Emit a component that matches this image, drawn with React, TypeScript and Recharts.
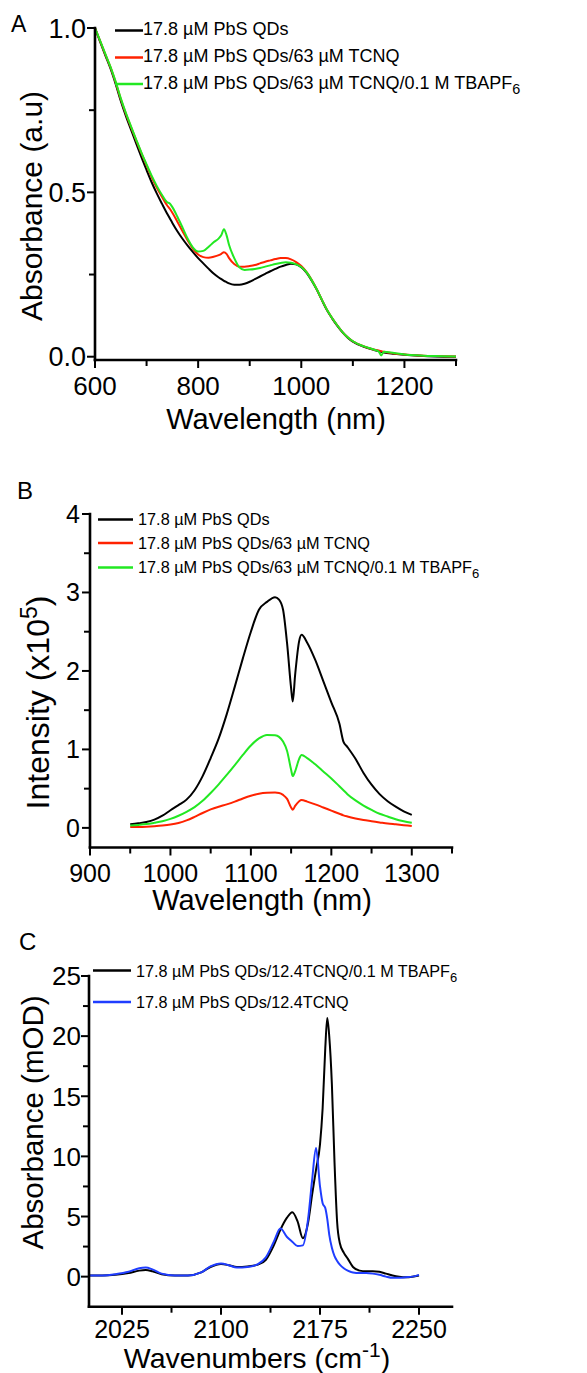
import React from 'react';
import { LineChart, Line, XAxis, YAxis, Legend } from 'recharts';

const FONT = "'Liberation Sans', Arial, Helvetica, sans-serif";
const BLACK = '#000000';
const RED = '#ff2200';
const GREEN = '#22e822';
const BLUE = '#1f3dff';

// ---------------- Panel A : absorption ----------------
const wavelengthA = [
  600, 610, 620, 630, 640, 650, 660, 670, 680, 690,
  700, 710, 720, 730, 740, 745, 750, 760, 770, 780,
  790, 800, 810, 820, 830, 840, 845, 850, 855, 860,
  870, 880, 890, 900, 910, 920, 930, 940, 950, 960,
  970, 980, 990, 1000, 1010, 1020, 1030, 1040, 1050, 1060,
  1070, 1080, 1090, 1100, 1120, 1140, 1150, 1155, 1160, 1180,
  1200, 1230, 1260, 1300,
];
const absQD = [
  1.0, 0.958, 0.917, 0.877, 0.83, 0.778, 0.732, 0.69, 0.648, 0.607,
  0.568, 0.53, 0.496, 0.465, 0.435, 0.421, 0.407, 0.381, 0.358, 0.337,
  0.318, 0.3, 0.284, 0.268, 0.253, 0.241, 0.236, 0.231, 0.227, 0.223,
  0.219, 0.219, 0.222, 0.228, 0.236, 0.244, 0.252, 0.26, 0.267, 0.274,
  0.279, 0.283, 0.281, 0.272, 0.256, 0.232, 0.204, 0.172, 0.141, 0.116,
  0.094, 0.074, 0.058, 0.046, 0.031, 0.021, 0.017, 0.015, 0.013, 0.009,
  0.006, 0.003, 0.001, 0.0,
];
const absTCNQ = [
  1.0, 0.96, 0.92, 0.881, 0.835, 0.784, 0.739, 0.698, 0.658, 0.619,
  0.582, 0.546, 0.514, 0.486, 0.46, 0.45, 0.438, 0.41, 0.381, 0.353,
  0.328, 0.311, 0.303, 0.301, 0.304, 0.309, 0.313, 0.318, 0.313, 0.3,
  0.282, 0.274, 0.274, 0.276, 0.279, 0.284, 0.289, 0.293, 0.297, 0.3,
  0.3, 0.296, 0.288, 0.276, 0.258, 0.234, 0.205, 0.173, 0.142, 0.117,
  0.095, 0.075, 0.059, 0.047, 0.032, 0.022, 0.019, 0.017, 0.015, 0.01,
  0.007, 0.004, 0.002, 0.001,
];
const absTBAPF6 = [
  1.0, 0.961, 0.921, 0.882, 0.837, 0.786, 0.741, 0.7, 0.66, 0.621,
  0.585, 0.55, 0.519, 0.492, 0.47, 0.466, 0.455, 0.425, 0.392, 0.358,
  0.332, 0.32, 0.322, 0.334, 0.348, 0.36, 0.37, 0.388, 0.37, 0.34,
  0.3, 0.272, 0.264, 0.265, 0.267, 0.27, 0.274, 0.278, 0.282, 0.285,
  0.287, 0.286, 0.281, 0.273, 0.257, 0.233, 0.205, 0.173, 0.142, 0.117,
  0.095, 0.075, 0.059, 0.047, 0.032, 0.022, 0.016, 0.004, 0.015, 0.011,
  0.007, 0.004, 0.002, 0.001,
];
const xTicksA = [600, 700, 800, 900, 1000, 1100, 1200, 1300];
const xMajorA = [600, 800, 1000, 1200];
const yTicksA = [0, 0.25, 0.5, 0.75, 1];
const yMajorA = [0, 0.5, 1];

// ---------------- Panel B : emission ----------------
const wavelengthB = [
  950, 960, 970, 980, 990, 1000, 1010, 1020, 1030, 1040,
  1050, 1060, 1070, 1080, 1090, 1100, 1110, 1120, 1130, 1135,
  1140, 1145, 1150, 1152, 1155, 1160, 1163, 1170, 1180, 1190,
  1200, 1210, 1215, 1220, 1230, 1240, 1250, 1260, 1270, 1280,
  1290, 1300,
];
const plQD = [
  0.045, 0.058, 0.075, 0.105, 0.155, 0.225, 0.29, 0.36, 0.48, 0.66,
  0.89, 1.14, 1.45, 1.8, 2.16, 2.5, 2.78, 2.88, 2.94, 2.91,
  2.78, 2.35, 1.78, 1.61, 1.95, 2.38, 2.46, 2.36, 2.14, 1.87,
  1.6, 1.33, 1.1, 1.03, 0.88, 0.7, 0.55, 0.43, 0.34, 0.27,
  0.21, 0.165,
];
const plTCNQ = [
  0.01, 0.012, 0.016, 0.022, 0.03, 0.042, 0.062, 0.095, 0.14, 0.19,
  0.235, 0.27, 0.3, 0.335, 0.375, 0.41, 0.435, 0.447, 0.45, 0.445,
  0.42, 0.37, 0.26, 0.23, 0.28, 0.34, 0.355, 0.335, 0.3, 0.26,
  0.22, 0.18, 0.16, 0.145, 0.12, 0.1, 0.085, 0.07, 0.055, 0.045,
  0.035, 0.025,
];
const plTBAPF6 = [
  0.03, 0.038, 0.048, 0.065, 0.085, 0.115, 0.155, 0.205, 0.265, 0.345,
  0.445, 0.555, 0.675, 0.8, 0.93, 1.05, 1.14, 1.185, 1.18, 1.16,
  1.1, 0.98, 0.74, 0.66, 0.72, 0.88, 0.93, 0.89, 0.81, 0.72,
  0.63, 0.53, 0.48, 0.43, 0.35, 0.285, 0.23, 0.18, 0.145, 0.11,
  0.085, 0.065,
];
const xTicksB = [900, 950, 1000, 1050, 1100, 1150, 1200, 1250, 1300, 1350];
const xMajorB = [900, 1000, 1100, 1200, 1300];
const yTicksB = [0, 0.5, 1, 1.5, 2, 2.5, 3, 3.5, 4];
const yMajorB = [0, 1, 2, 3, 4];

// ---------------- Panel C : IR ----------------
const wavenumberC = [
  2000, 2010, 2020, 2030, 2038, 2043, 2048, 2055, 2065, 2075,
  2085, 2092, 2100, 2106, 2112, 2120, 2128, 2134, 2140, 2145,
  2150, 2154, 2158, 2162, 2166, 2169, 2172, 2175, 2177, 2179,
  2180.5, 2182, 2184, 2186, 2188, 2190, 2193, 2196, 2200, 2205,
  2210, 2215, 2220, 2225, 2230, 2235, 2240, 2245, 2250,
];
const irTBAPF6 = [
  0.1, 0.1, 0.15, 0.3, 0.5, 0.55, 0.45, 0.2, 0.1, 0.1,
  0.35, 0.8, 1.05, 0.95, 0.8, 0.85, 1.0, 1.4, 2.6, 3.9,
  4.9, 5.35, 4.6, 3.2, 4.5, 6.8, 8.9, 11.0, 14.0, 19.0,
  21.5, 20.0, 16.0, 9.5, 4.5, 2.8, 2.0, 1.5, 0.8, 0.5,
  0.45, 0.45, 0.4, 0.25, 0.1, 0.0, -0.05, 0.0, 0.1,
];
const irTCNQ = [
  0.1, 0.1, 0.2, 0.4, 0.7, 0.75, 0.6, 0.25, 0.1, 0.1,
  0.35, 0.85, 1.1, 0.95, 0.75, 0.8, 1.05, 1.6, 2.9, 4.0,
  3.3, 2.9, 2.55, 2.6, 4.8, 8.0, 10.7, 7.5, 6.1, 5.7,
  4.8, 3.5, 2.4, 1.7, 1.3, 1.0, 0.7, 0.5, 0.35, 0.3,
  0.3, 0.25, 0.15, 0.0, -0.1, -0.1, -0.05, 0.0, 0.15,
];
const xTicksC = [2025, 2062.5, 2100, 2137.5, 2175, 2212.5, 2250];
const xMajorC = [2025, 2100, 2175, 2250];
const yTicksC = [0, 2.5, 5, 7.5, 10, 12.5, 15, 17.5, 20, 22.5, 25];
const yMajorC = [0, 5, 10, 15, 20, 25];

const dataA = wavelengthA.map((x, i) => ({ x, qd: absQD[i], tcnq: absTCNQ[i], tba: absTBAPF6[i] }));
const dataB = wavelengthB.map((x, i) => ({ x, qd: plQD[i], tcnq: plTCNQ[i], tba: plTBAPF6[i] }));
const dataC = wavenumberC.map((x, i) => ({ x, tba: irTBAPF6[i], tcnq: irTCNQ[i] }));

type TickOpts = { major: number[]; fmt: (v: number) => string; fontSize: number; offset: number };

const makeXTick = ({ major, fmt, fontSize, offset }: TickOpts) => (props: any) => {
  const { x, y, payload } = props;
  const v = payload.value;
  const isMajor = major.indexOf(v) >= 0;
  return (
    <g>
      <line x1={x} x2={x} y1={y} y2={y + (isMajor ? 8 : 6)} stroke="#000" strokeWidth={2} />
      {isMajor ? (
        <text x={x} y={y + offset} textAnchor="middle" fontSize={fontSize} fontFamily={FONT} fill="#000">
          {fmt(v)}
        </text>
      ) : null}
    </g>
  );
};

const makeYTick = ({ major, fmt, fontSize, offset }: TickOpts) => (props: any) => {
  const { x, y, payload } = props;
  const v = payload.value;
  const isMajor = major.indexOf(v) >= 0;
  return (
    <g>
      <line x1={x} x2={x - (isMajor ? 8 : 6)} y1={y} y2={y} stroke="#000" strokeWidth={2} />
      {isMajor ? (
        <text x={x - offset} y={y} dy="0.36em" textAnchor="end" fontSize={fontSize} fontFamily={FONT} fill="#000">
          {fmt(v)}
        </text>
      ) : null}
    </g>
  );
};

const axisLineStyle = { stroke: '#000', strokeWidth: 2.6, strokeLinecap: 'square' as const };
const legendWrap = { position: 'absolute' as const, left: 0, top: 0, width: 0, height: 0, overflow: 'visible' as const };

const Sub6 = ({ dy }: { dy: number }) => (
  <tspan dy={dy} fontSize="0.8em">6</tspan>
);

const LegendA = () => (
  <svg width={587} height={110} style={{ position: 'absolute', left: 0, top: 0, overflow: 'visible' }}>
    <text x={11} y={32} fontSize={23} fontFamily={FONT} fill="#000">A</text>
    <line x1={115} x2={143} y1={30.5} y2={30.5} stroke={BLACK} strokeWidth={2.5} />
    <text x={143} y={35} fontSize={18} fontFamily={FONT} fill="#000">17.8 µM PbS QDs</text>
    <line x1={115} x2={143} y1={57.5} y2={57.5} stroke={RED} strokeWidth={2.5} />
    <text x={143} y={62} fontSize={18} fontFamily={FONT} fill="#000">17.8 µM PbS QDs/63 µM TCNQ</text>
    <line x1={115} x2={143} y1={84} y2={84} stroke={GREEN} strokeWidth={2.5} />
    <text x={143} y={89} fontSize={18} fontFamily={FONT} fill="#000">
      17.8 µM PbS QDs/63 µM TCNQ/0.1 M TBAPF<Sub6 dy={5} />
    </text>
  </svg>
);

const LegendB = () => (
  <svg width={587} height={130} style={{ position: 'absolute', left: 0, top: 0, overflow: 'visible' }}>
    <text x={17} y={39} fontSize={24} fontFamily={FONT} fill="#000">B</text>
    <line x1={98} x2={133} y1={59.5} y2={59.5} stroke={BLACK} strokeWidth={2.5} />
    <text x={138} y={65} fontSize={16.3} fontFamily={FONT} fill="#000">17.8 µM PbS QDs</text>
    <line x1={98} x2={133} y1={83} y2={83} stroke={RED} strokeWidth={2.5} />
    <text x={138} y={89} fontSize={16.3} fontFamily={FONT} fill="#000">17.8 µM PbS QDs/63 µM TCNQ</text>
    <line x1={98} x2={133} y1={107.5} y2={107.5} stroke={GREEN} strokeWidth={2.5} />
    <text x={138} y={113} fontSize={16.3} fontFamily={FONT} fill="#000">
      17.8 µM PbS QDs/63 µM TCNQ/0.1 M TBAPF<Sub6 dy={5} />
    </text>
  </svg>
);

const LegendC = () => (
  <svg width={587} height={100} style={{ position: 'absolute', left: 0, top: 0, overflow: 'visible' }}>
    <text x={19} y={30} fontSize={24} fontFamily={FONT} fill="#000">C</text>
    <line x1={93} x2={131} y1={50.5} y2={50.5} stroke={BLACK} strokeWidth={2.5} />
    <text x={136} y={57} fontSize={16.2} fontFamily={FONT} fill="#000">
      17.8 µM PbS QDs/12.4TCNQ/0.1 M TBAPF<Sub6 dy={5} />
    </text>
    <line x1={93} x2={131} y1={82} y2={82} stroke={BLUE} strokeWidth={2.5} />
    <text x={136} y={88} fontSize={16.2} fontFamily={FONT} fill="#000">17.8 µM PbS QDs/12.4TCNQ</text>
  </svg>
);

const lineCommon = { type: 'monotone' as const, dot: false, activeDot: false, isAnimationActive: false, strokeWidth: 2 };

export default function App() {
  return (
    <div style={{ position: 'absolute', left: 0, top: 0, width: 587, height: 1373, background: '#fff', fontFamily: FONT }}>
      {/* Panel A */}
      <div style={{ position: 'absolute', left: 0, top: 0 }}>
        <LineChart width={587} height={460} data={dataA} margin={{ top: 28, right: 131, bottom: 0, left: 0 }}>
          <XAxis
            type="number"
            dataKey="x"
            domain={[600, 1300]}
            ticks={xTicksA}
            interval={0}
            tickSize={0}
            tickMargin={0}
            tickLine={false}
            axisLine={axisLineStyle}
            height={100}
            tick={makeXTick({ major: xMajorA, fmt: (v) => String(v), fontSize: 26, offset: 35 })}
            label={{
              content: () => (
                <text x={276} y={429} textAnchor="middle" fontSize={29} fontFamily={FONT} fill="#000">
                  Wavelength (nm)
                </text>
              ),
            }}
          />
          <YAxis
            type="number"
            domain={[-0.01, 1]}
            ticks={yTicksA}
            interval={0}
            tickSize={0}
            tickMargin={0}
            tickLine={false}
            axisLine={axisLineStyle}
            width={95}
            tick={makeYTick({ major: yMajorA, fmt: (v) => v.toFixed(1), fontSize: 27, offset: 9 })}
            label={{
              content: () => (
                <text transform="translate(42,206) rotate(-90)" textAnchor="middle" fontSize={30} fontFamily={FONT} fill="#000">
                  Absorbance (a.u)
                </text>
              ),
            }}
          />
          <Legend content={() => <LegendA />} wrapperStyle={legendWrap} layout="horizontal" verticalAlign="middle" align="center" />
          <Line {...lineCommon} dataKey="qd" stroke={BLACK} />
          <Line {...lineCommon} dataKey="tcnq" stroke={RED} />
          <Line {...lineCommon} dataKey="tba" stroke={GREEN} />
        </LineChart>
      </div>

      {/* Panel B */}
      <div style={{ position: 'absolute', left: 0, top: 460 }}>
        <LineChart width={587} height={460} data={dataB} margin={{ top: 54, right: 135, bottom: 0, left: 0 }}>
          <XAxis
            type="number"
            dataKey="x"
            domain={[900, 1350]}
            ticks={xTicksB}
            interval={0}
            tickSize={0}
            tickMargin={0}
            tickLine={false}
            axisLine={axisLineStyle}
            height={72.5}
            tick={makeXTick({ major: xMajorB, fmt: (v) => String(v), fontSize: 25, offset: 34 })}
            label={{
              content: () => (
                <text x={262} y={450} textAnchor="middle" fontSize={29} fontFamily={FONT} fill="#000">
                  Wavelength (nm)
                </text>
              ),
            }}
          />
          <YAxis
            type="number"
            domain={[-0.25, 4]}
            ticks={yTicksB}
            interval={0}
            tickSize={0}
            tickMargin={0}
            tickLine={false}
            axisLine={axisLineStyle}
            width={90}
            tick={makeYTick({ major: yMajorB, fmt: (v) => String(v), fontSize: 25, offset: 10 })}
            label={{
              content: () => (
                <text transform="translate(49,242.5) rotate(-90)" textAnchor="middle" fontSize={32} fontFamily={FONT} fill="#000">
                  Intensity (x10<tspan dy={-12} fontSize={23}>5</tspan><tspan dy={12}>)</tspan>
                </text>
              ),
            }}
          />
          <Legend content={() => <LegendB />} wrapperStyle={legendWrap} layout="horizontal" verticalAlign="middle" align="center" />
          <Line {...lineCommon} dataKey="qd" stroke={BLACK} />
          <Line {...lineCommon} dataKey="tcnq" stroke={RED} />
          <Line {...lineCommon} dataKey="tba" stroke={GREEN} />
        </LineChart>
      </div>

      {/* Panel C */}
      <div style={{ position: 'absolute', left: 0, top: 920 }}>
        <LineChart width={587} height={453} data={dataC} margin={{ top: 56, right: 135, bottom: 0, left: 0 }}>
          <XAxis
            type="number"
            dataKey="x"
            domain={[2000, 2275]}
            ticks={xTicksC}
            interval={0}
            tickSize={0}
            tickMargin={0}
            tickLine={false}
            axisLine={axisLineStyle}
            height={66.3}
            tick={makeXTick({ major: xMajorC, fmt: (v) => String(v), fontSize: 25, offset: 31 })}
            label={{
              content: () => (
                <text x={257} y={448} textAnchor="middle" fontSize={28.5} fontFamily={FONT} fill="#000">
                  Wavenumbers (cm<tspan dy={-11} fontSize={21}>-1</tspan><tspan dy={11}>)</tspan>
                </text>
              ),
            }}
          />
          <YAxis
            type="number"
            domain={[-2.5, 25]}
            ticks={yTicksC}
            interval={0}
            tickSize={0}
            tickMargin={0}
            tickLine={false}
            axisLine={axisLineStyle}
            width={89}
            tick={makeYTick({ major: yMajorC, fmt: (v) => String(v), fontSize: 26, offset: 8 })}
            label={{
              content: () => (
                <text transform="translate(43,202.5) rotate(-90)" textAnchor="middle" fontSize={29.5} fontFamily={FONT} fill="#000">
                  Absorbance (mOD)
                </text>
              ),
            }}
          />
          <Legend content={() => <LegendC />} wrapperStyle={legendWrap} layout="horizontal" verticalAlign="middle" align="center" />
          <Line {...lineCommon} dataKey="tba" stroke={BLACK} />
          <Line {...lineCommon} dataKey="tcnq" stroke={BLUE} />
        </LineChart>
      </div>
    </div>
  );
}
